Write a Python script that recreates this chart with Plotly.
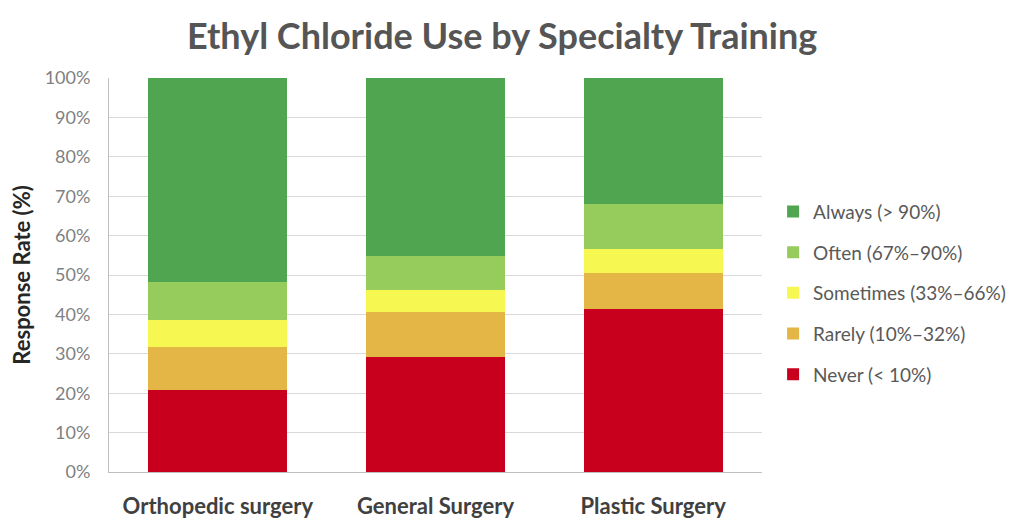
import plotly.graph_objects as go

categories = ["Orthopedic surgery", "General Surgery", "Plastic Surgery"]
never = [20.8, 29.3, 41.4]
rarely = [11.0, 11.2, 9.1]
sometimes = [6.8, 5.6, 6.1]
often = [9.5, 8.7, 11.4]
always = [51.9, 45.2, 32.0]

series_names = ["Never (< 10%)", "Rarely (10%–32%)", "Sometimes (33%–66%)", "Often (67%–90%)", "Always (> 90%)"]
series_values = [never, rarely, sometimes, often, always]
series_colors = ["#C8001E", "#E3B645", "#F7F752", "#95CC5C", "#50A550"]

FONT = "Lato"

fig = go.Figure()
for i, (name, vals, col) in enumerate(zip(series_names, series_values, series_colors)):
    fig.add_trace(go.Bar(
        x=categories, y=vals, name=name, marker=dict(color=col, line=dict(width=0)),
        legendgroup=name, legendrank=1000 - i, hoverinfo="y+name",
    ))

fig.update_layout(
    barmode="stack",
    bargap=0.36,
    width=1021, height=519,
    margin=dict(l=101, r=267, t=70, b=55, autoexpand=False),
    paper_bgcolor="white", plot_bgcolor="white",
    title=dict(text="<b>Ethyl Chloride Use by Specialty Training</b>", x=0.484, xanchor="center",
               y=0.945, yanchor="middle", font=dict(family=FONT, size=36, color="#555555")),
    font=dict(family=FONT, color="#595959"),
    legend=dict(traceorder="grouped", x=1.017, xanchor="left", y=0.454, yanchor="middle",
                font=dict(family=FONT, size=19, color="#595959"), tracegroupgap=13,
                bgcolor="rgba(0,0,0,0)"),
    yaxis=dict(range=[0, 100], tickvals=[0, 10, 20, 30, 40, 50, 60, 70, 80, 90, 100],
               ticktext=[f"{v}%" for v in range(0, 101, 10)],
               showgrid=True, gridcolor="#D9D9D9", gridwidth=1,
               showline=True, linecolor="#BFBFBF", linewidth=1,
               tickfont=dict(family=FONT, size=18, color="#7F7F7F"),
               ticks="", ticklabelstandoff=14, automargin=False,
               title=dict(text="<b>Response Rate (%)</b>", font=dict(family=FONT, size=22, color="#262626"), standoff=8),
               zeroline=False),
    xaxis=dict(showline=True, linecolor="#BFBFBF", linewidth=1, ticks="", automargin=False,
               tickfont=dict(family=FONT, size=22, color="#404040"), ticklabelstandoff=15,
               tickvals=categories, ticktext=[f"<b>{c}</b>" for c in categories]),
)

fig.write_html("out.html")
